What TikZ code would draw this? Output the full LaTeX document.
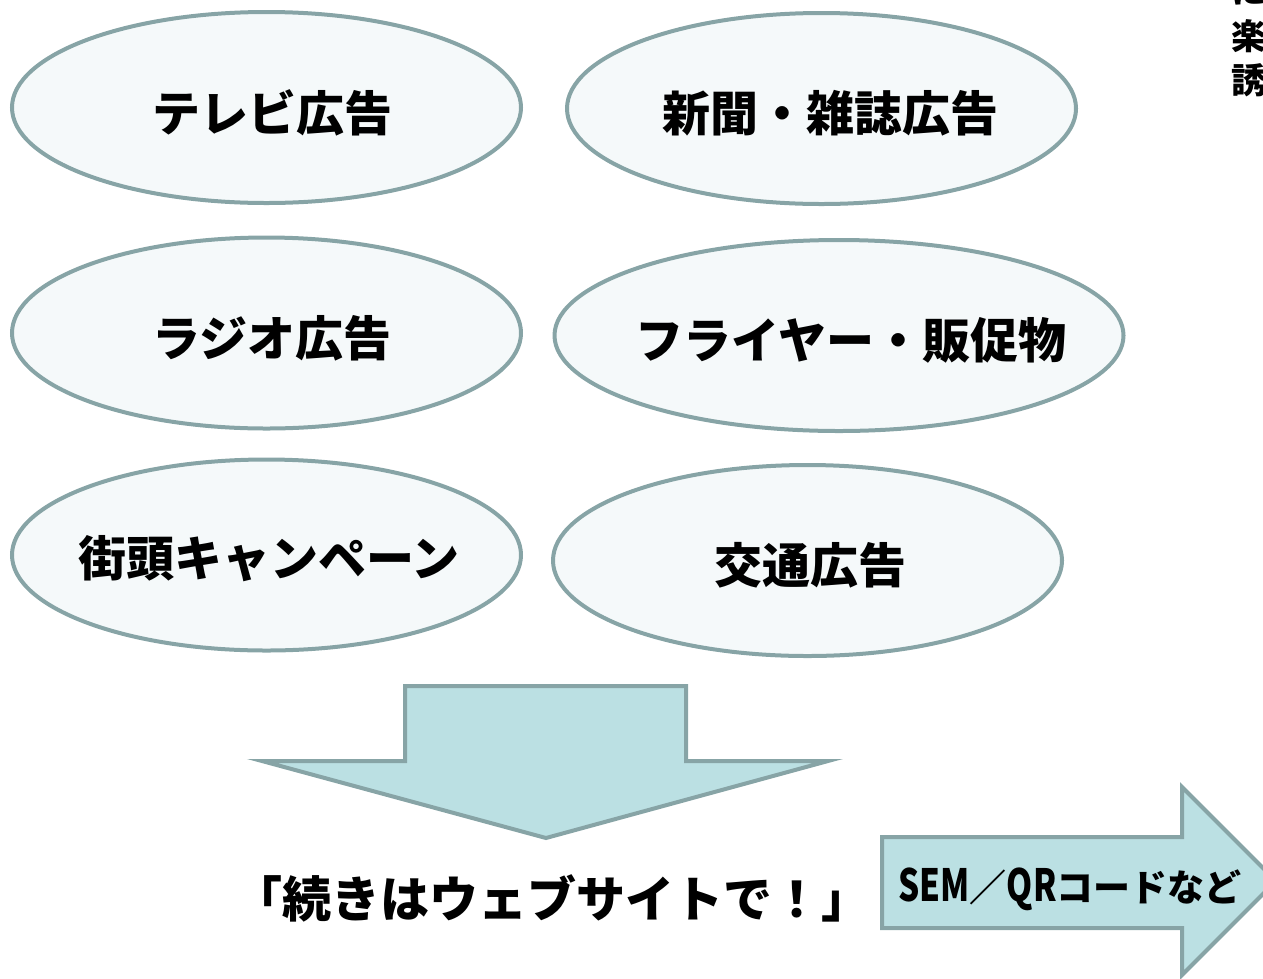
\documentclass[tikz,border=0pt]{standalone}
\usepackage{fontspec}
\usetikzlibrary{shapes.geometric}
\newfontfamily\jp{Noto Sans CJK JP}[BoldFont={Noto Sans CJK JP Black}]
\newfontfamily\jpb{Noto Sans CJK JP}
\definecolor{edge}{HTML}{87A4A6}
\definecolor{ellfill}{HTML}{F5F9FA}
\definecolor{arrfill}{HTML}{BBE0E3}
\tikzset{
  ell/.style={ellipse, draw=edge, line width=4pt, fill=ellfill, inner sep=0pt,
    minimum width=509pt, minimum height=191pt},
  lbl/.style={font=\jp\bfseries\fontsize{48pt}{56pt}\selectfont, inner sep=0pt},
  arr/.style={draw=edge, line width=4pt, fill=arrfill, line join=miter},
  big/.style={font=\jp\bfseries\fontsize{49pt}{60pt}\selectfont, inner sep=0pt},
  sem/.style={font=\jpb\bfseries\fontsize{37pt}{44pt}\selectfont, inner sep=0pt},
  side/.style={font=\jp\bfseries\fontsize{35pt}{40pt}\selectfont, inner sep=0pt, anchor=west}
}
\newcommand{\narrowlat}[1]{\scalebox{0.9}[1.2]{#1}}
\begin{document}
\begin{tikzpicture}[x=1pt,y=-1pt]
\useasboundingbox (0,0) rectangle (1263,978);
\clip (0,0) rectangle (1263,978);
\node[ell] (tv) at (266.5,107.5) {};
\node[ell] (news) at (821.5,108.5) {};
\node[ell] (radio) at (266.5,333) {};
\node[ell, minimum width=569pt] (flyer) at (839,335.5) {};
\node[ell] (street) at (266.5,555) {};
\node[ell] (transit) at (807.5,560.5) {};
\node[lbl] (tvt) at (272,113) {テレビ広告};
\node[lbl] (newst) at (830,113) {新聞・雑誌広告};
\node[lbl] (radiot) at (272,338) {ラジオ広告};
\node[lbl] (flyert) at (851,340) {フライヤー・販促物};
\node[lbl] (streett) at (269,559) {街頭キャンペーン};
\node[lbl] (transitt) at (810,565) {交通広告};
% down arrow
\draw[arr] (405,686) -- (686,686) -- (686,761) -- (828,761) -- (546,838) -- (262,761) -- (405,761) -- cycle;
% right arrow
\draw[arr] (882,837) -- (1182,837) -- (1182,787) -- (1276,881) -- (1182,975) -- (1182,928) -- (882,928) -- cycle;
\node[big] (cta) at (552,898) {「続きはウェブサイトで！」};
\node[sem] (semlbl) at (1070,889) {\narrowlat{SEM}／\narrowlat{QR}コードなど};
% clipped text at top right
\node[side] (s0) at (1231,-9) {に};
\node[side] (s1) at (1231,36) {楽};
\node[side] (s2) at (1231,80) {誘};
\end{tikzpicture}
\end{document}
